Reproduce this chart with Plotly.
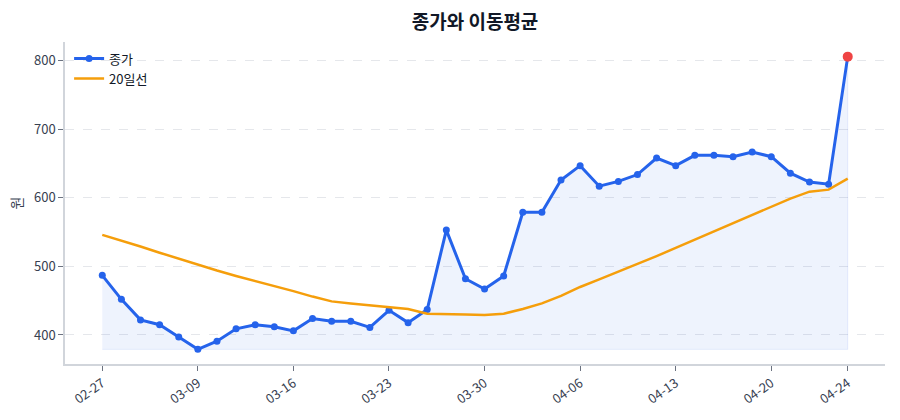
import plotly.graph_objects as go

dates = ["02-27", "03-03", "03-04", "03-05", "03-06",
         "03-09", "03-10", "03-11", "03-12", "03-13",
         "03-16", "03-17", "03-18", "03-19", "03-20",
         "03-23", "03-24", "03-25", "03-26", "03-27",
         "03-30", "03-31", "04-01", "04-02", "04-03",
         "04-06", "04-07", "04-08", "04-09", "04-10",
         "04-13", "04-14", "04-15", "04-16", "04-17",
         "04-20", "04-21", "04-22", "04-23", "04-24"]

close = [487, 452, 422, 415, 397, 379, 391, 409, 415, 412,
         406, 424, 420, 420, 411, 436, 418, 437, 553, 482,
         467, 486, 579, 579, 626, 647, 617, 624, 634, 658,
         647, 662, 662, 660, 667, 660, 636, 623, 620, 806]

ma20 = [546, 538, 529, 520, 511, 502, 494, 486, 479, 472,
        464, 456, 449, 446, 443, 441, 438, 431, 431, 430,
        429, 431, 438, 446, 457, 470, 481, 492, 503, 515,
        527, 539, 551, 563, 576, 588, 599, 609, 612, 628]

tick_dates = ["02-27", "03-09", "03-16", "03-23", "03-30", "04-06", "04-13", "04-20", "04-24"]

BLUE = "#2563eb"
ORANGE = "#f59e0b"
RED = "#ef4444"

base = min(close)
n = len(dates)

fig = go.Figure()

# light fill under the close line
fig.add_trace(go.Scatter(
    x=dates + dates[::-1],
    y=close + [base] * n,
    fill="toself",
    fillcolor="rgba(37,99,235,0.08)",
    line=dict(color="rgba(37,99,235,0.10)", width=1),
    hoverinfo="skip",
    showlegend=False,
))

fig.add_trace(go.Scatter(
    x=dates, y=close, name="종가",
    mode="lines+markers",
    line=dict(color=BLUE, width=3),
    marker=dict(color=BLUE, size=7),
))

fig.add_trace(go.Scatter(
    x=dates, y=ma20, name="20일선",
    mode="lines",
    line=dict(color=ORANGE, width=2.5),
))

fig.add_trace(go.Scatter(
    x=[dates[-1]], y=[close[-1]],
    mode="markers",
    marker=dict(color=RED, size=10),
    showlegend=False,
))

ymin, ymax = min(min(close), min(ma20)), max(max(close), max(ma20))
pad = (ymax - ymin) * 0.05

fig.update_layout(
    width=900, height=420,
    paper_bgcolor="white", plot_bgcolor="white",
    margin=dict(l=65, r=15, t=42, b=53),
    font=dict(family="Noto Sans CJK KR, Noto Sans, sans-serif", color="#374151", size=12),
    title=dict(text="<b>종가와 이동평균</b>", x=0.5278, xanchor="center", y=0.947, yanchor="middle",
               font=dict(size=19, color="#111827")),
    legend=dict(x=0.005, y=0.995, xanchor="left", yanchor="top",
                bgcolor="rgba(255,255,255,0)", font=dict(size=13, color="#111827"),
                itemwidth=30, tracegroupgap=0),
    showlegend=True,
)

fig.update_xaxes(
    type="category",
    range=[-1.95, n - 1 + 1.95],
    tickmode="array", tickvals=tick_dates, ticktext=tick_dates,
    tickangle=-35,
    ticks="outside", ticklen=5, tickcolor="#6b7280",
    showline=True, linecolor="#d1d5db", linewidth=1.5,
    showgrid=False, zeroline=False,
    tickfont=dict(size=13, color="#374151"),
)

fig.update_yaxes(
    range=[ymin - pad, ymax + pad],
    tickvals=[400, 500, 600, 700, 800],
    ticks="outside", ticklen=5, tickcolor="#6b7280",
    showline=True, linecolor="#d1d5db", linewidth=1.5,
    showgrid=True, gridcolor="#e5e7eb", griddash="dash", gridwidth=1,
    zeroline=False,
    title=dict(text="원", font=dict(size=14, color="#374151"), standoff=8),
    tickfont=dict(size=13, color="#374151"),
)

fig.write_html("out.html")
